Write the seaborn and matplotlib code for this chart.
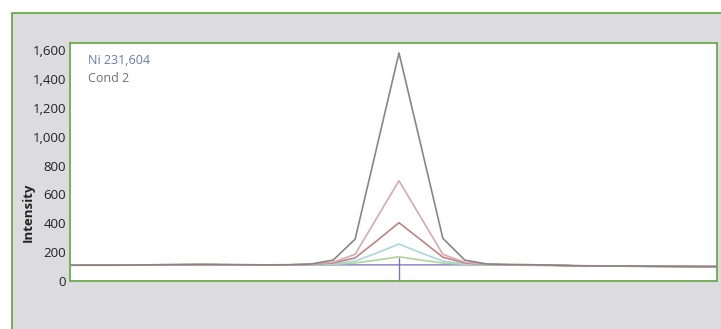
import matplotlib
matplotlib.use("Agg")
import matplotlib.pyplot as plt
import matplotlib.patches as patches
import pandas as pd
import seaborn as sns

# scan positions around the peak centre
scan = [-15, -14, -13, -12, -11, -10, -9, -8, -7, -6, -5, -4, -3, -2, -1, 0,
        1, 2, 3, 4, 5, 6, 7, 8, 9, 10, 11, 12, 13, 14, 15]

# intensities, one list per replicate trace
gray = [110, 110, 110, 111, 113, 114, 115, 114, 113, 112, 113, 118, 145, 290, 935, 1581,
        940, 296, 145, 118, 114, 113, 110, 106, 104, 104, 103, 102, 101, 100, 100]
pink = [110, 110, 110, 111, 112, 113, 114, 113, 112, 112, 112, 116, 130, 185, 440, 695,
        440, 185, 130, 116, 113, 112, 110, 106, 105, 104, 103, 102, 101, 100, 100]
red = [110, 110, 110, 111, 112, 113, 114, 113, 112, 112, 112, 115, 125, 160, 280, 404,
       285, 165, 125, 115, 113, 112, 110, 106, 105, 104, 103, 102, 101, 100, 100]
cyan = [109, 109, 109, 110, 111, 112, 113, 112, 111, 111, 111, 113, 118, 138, 195, 256,
        195, 138, 118, 113, 112, 111, 109, 105, 104, 103, 102, 101, 100, 99, 99]
green = [109, 109, 109, 110, 111, 112, 113, 112, 111, 111, 111, 112, 115, 125, 145, 168,
         145, 125, 115, 112, 111, 110, 108, 105, 104, 103, 102, 101, 100, 99, 99]
purple = [110, 110, 110, 110, 111, 112, 113, 112, 111, 111, 111, 111, 112, 112, 112, 112,
          112, 112, 112, 111, 110, 109, 108, 105, 104, 103, 102, 101, 100, 100, 100]

series_names = ["gray", "pink", "red", "cyan", "green", "purple"]
series_values = [gray, pink, red, cyan, green, purple]
series_colors = ["#8c8484", "#d9a8b0", "#c28282", "#a6d8dc", "#b0d49a", "#9a90cc"]

rows = []
for name, vals in zip(series_names, series_values):
    for s, v in zip(scan, vals):
        rows.append({"scan": s, "Intensity": v, "trace": name})
df = pd.DataFrame(rows)

sns.set_style("white")
plt.rcParams["font.family"] = ["Open Sans", "DejaVu Sans"]

fig = plt.figure(figsize=(7.21, 3.29), dpi=100)
fig.patch.set_facecolor("white")

# grey panel with green frame behind the plot
W, H = 721, 329
panel = patches.Rectangle((12 / W, -0.05), 1.1, (H - 13) / H + 0.05,
                          transform=fig.transFigure, facecolor="#dcdcde",
                          edgecolor="#6aab4c", linewidth=1.3, zorder=-5)
fig.patches.append(panel)

ax = fig.add_axes([70 / W, 1 - 281 / H, (717 - 70) / W, (281 - 43) / H])
ax.set_facecolor("white")

sns.lineplot(data=df, x="scan", y="Intensity", hue="trace",
             palette=dict(zip(series_names, series_colors)),
             hue_order=series_names[::-1], linewidth=1.2, legend=False, ax=ax)

# marker at the peak centre
ax.plot([0, 0], [0, 160], color="#8070c0", linewidth=1.0)

ax.set_xlim(-15, 14.5)
ax.set_ylim(0, 1650)
ax.set_yticks([0, 200, 400, 600, 800, 1000, 1200, 1400, 1600])
ax.set_yticklabels(["0", "200", "400", "600", "800", "1,000", "1,200", "1,400", "1,600"],
                   fontsize=9.5, color="#222222")
ax.set_xticks([])
ax.set_xlabel("")
ax.set_ylabel("")
ax.tick_params(axis="y", length=0, pad=3)
for sp in ax.spines.values():
    sp.set_color("#6aab4c")
    sp.set_linewidth(1.3)
    sp.set_visible(True)

fig.text(28 / W, 1 - 212 / H, "Intensity", rotation=90, ha="center", va="center",
         fontsize=9.5, fontweight="bold", color="#222222")
ax.text(0.028, 0.925, "Ni 231,604", transform=ax.transAxes, fontsize=9,
        color="#6a78b0", ha="left", va="center")
ax.text(0.028, 0.85, "Cond 2", transform=ax.transAxes, fontsize=9,
        color="#707070", ha="left", va="center")

fig.savefig("out.png", dpi=100)
